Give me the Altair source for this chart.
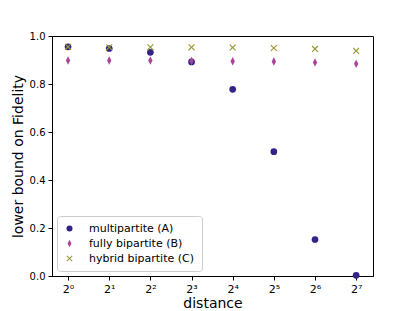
import altair as alt
import pandas as pd

distances = [1, 2, 4, 8, 16, 32, 64, 128]
series_names = ["multipartite (A)", "fully bipartite (B)", "hybrid bipartite (C)"]
multipartite = [0.955, 0.948, 0.932, 0.892, 0.778, 0.518, 0.152, 0.003]
fully_bipartite = [0.898, 0.898, 0.898, 0.896, 0.895, 0.894, 0.890, 0.884]
hybrid_bipartite = [0.955, 0.953, 0.953, 0.953, 0.952, 0.950, 0.946, 0.938]
colors = ["#332288", "#AA4499", "#999933"]

rows = []
for name, vals in zip(series_names, [multipartite, fully_bipartite, hybrid_bipartite]):
    for d, v in zip(distances, vals):
        rows.append({"distance": d, "value": v, "series": name})
df = pd.DataFrame(rows)

thin_diamond = "M0,-1.25L0.65,0L0,1.25L-0.65,0Z"
x_shape = ("M-1,-0.75L-0.75,-1L0,-0.25L0.75,-1L1,-0.75L0.25,0L1,0.75L0.75,1"
           "L0,0.25L-0.75,1L-1,0.75L-0.25,0Z")

sup = "['⁰','¹','²','³','⁴','⁵','⁶','⁷','⁸']"

chart = alt.Chart(df).mark_point(filled=True, opacity=1, size=45).encode(
    x=alt.X("distance:Q",
            scale=alt.Scale(type="log", base=2, domain=[0.763, 170], nice=False),
            axis=alt.Axis(values=distances, title="distance",
                          labelExpr="'2' + " + sup + "[round(log(datum.value)/log(2))]",
                          grid=False, tickSize=4, labelFontSize=11, titleFontSize=14,
                          titleFontWeight="normal", labelColor="black", titleColor="black",
                          domainColor="black", tickColor="black", titlePadding=2,
                          labelPadding=3)),
    y=alt.Y("value:Q",
            scale=alt.Scale(domain=[0, 1], nice=False),
            axis=alt.Axis(values=[0, 0.2, 0.4, 0.6, 0.8, 1.0], format=".1f",
                          title="lower bound on Fidelity", grid=False, tickSize=4,
                          labelFontSize=10, titleFontSize=14, titleFontWeight="normal",
                          labelColor="black", titleColor="black", domainColor="black",
                          tickColor="black", titlePadding=4, labelPadding=3)),
    color=alt.Color("series:N", scale=alt.Scale(domain=series_names, range=colors),
                    legend=alt.Legend(title=None, orient="bottom-left", offset=5,
                                      labelFontSize=11, labelColor="black",
                                      symbolSize=36, padding=7, rowPadding=3,
                                      strokeColor="#cccccc", cornerRadius=3,
                                      fillColor="white", labelOffset=14)),
    shape=alt.Shape("series:N", scale=alt.Scale(domain=series_names,
                                                range=["circle", thin_diamond, x_shape]),
                    legend=alt.Legend(title=None, orient="bottom-left", offset=5)),
).properties(
    width=321, height=240,
    autosize=alt.AutoSizeParams(type="none"),
    padding={"left": 44, "top": 28, "right": 34, "bottom": 35},
).configure_view(
    stroke="black", strokeWidth=1
).configure_axis(
    labelFont="DejaVu Sans", titleFont="DejaVu Sans"
).configure_legend(
    labelFont="DejaVu Sans"
)

chart.save("out.html", embed_options={"renderer": "svg", "actions": False})
